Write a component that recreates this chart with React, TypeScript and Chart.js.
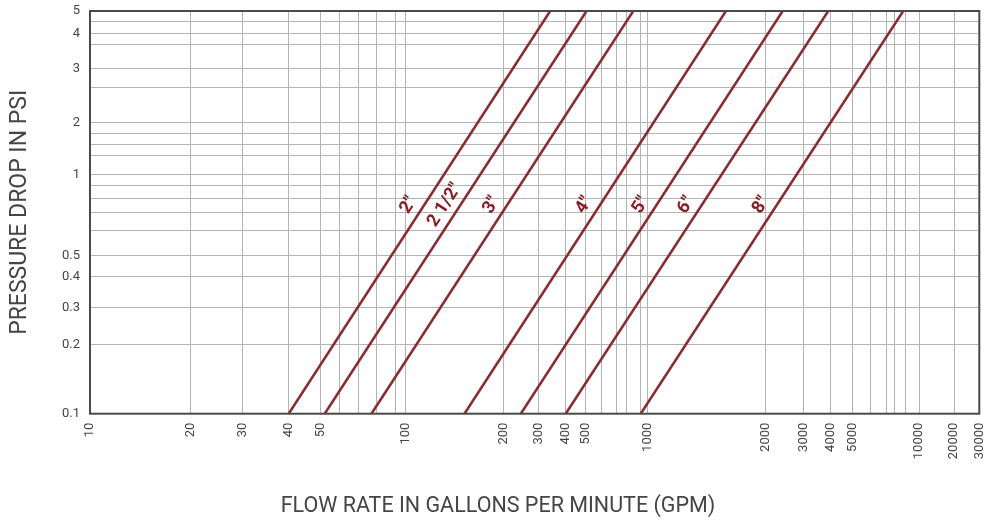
import React, { useEffect, useRef } from 'react';
import { Chart, Scale, registerables } from 'chart.js';

// ---- data ----
const pipeSizes = ['2"', '2 1/2"', '3"', '4"', '5"', '6"', '8"'];
// flow (GPM) at the lowest pressure drop shown (0.1 psi)
const flowAtLowDrop = [40, 52, 77, 152, 245, 400, 905];
// flow (GPM) at the highest pressure drop shown (5 psi)
const flowAtHighDrop = [340, 505, 847, 1584, 2398, 3898, 8766];
const pressureRange = [0.1, 5];
const labelPressure = 0.7;

// ---- axes (grid values, their calibrated position along the axis, labelled ticks) ----
const xGridValues = [10, 20, 30, 40, 50, 60, 70, 80, 90, 100, 200, 300, 400, 500, 600, 700, 800, 900, 1000,
  2000, 3000, 4000, 5000, 6000, 7000, 8000, 9000, 10000, 20000, 30000];
const xGridStops = [0, 0.1128, 0.172, 0.2234, 0.2594, 0.2803, 0.3017, 0.3224, 0.3433, 0.3545, 0.4647, 0.5041,
  0.5349, 0.5574, 0.5754, 0.592, 0.6035, 0.6188, 0.6271, 0.7598, 0.8025, 0.8329, 0.8572, 0.8782, 0.8959,
  0.9052, 0.9172, 0.9322, 0.9716, 1];
const xTickLabels = [10, 20, 30, 40, 50, 100, 200, 300, 400, 500, 1000, 2000, 3000, 4000, 5000, 10000, 20000, 30000];

const yGridValues = [0.1, 0.2, 0.3, 0.4, 0.5, 0.6, 0.7, 0.8, 0.9, 1, 1.4, 1.6, 1.8, 2, 2.5, 3, 3.5, 4, 4.5, 5];
const yGridStops = [0, 0.1723, 0.2642, 0.3412, 0.3933, 0.4537, 0.5001, 0.5332, 0.5662, 0.5945, 0.6417, 0.669,
  0.6963, 0.7236, 0.8095, 0.8577, 0.9173, 0.9446, 0.9734, 1];
const yTickLabels = [0.1, 0.2, 0.3, 0.4, 0.5, 1, 2, 3, 4, 5];

const xTitle = 'FLOW RATE IN GALLONS PER MINUTE (GPM)';
const yTitle = 'PRESSURE DROP IN PSI';

type Calib = { values: number[]; stops: number[] };
const calibration: Record<string, Calib> = {
  x: { values: xGridValues, stops: xGridStops },
  y: { values: yGridValues, stops: yGridStops },
};

function toDecimal(c: Calib, v: number): number {
  const { values, stops } = c;
  const n = values.length;
  let i = 0;
  while (i < n - 2 && v > values[i + 1]) i++;
  const a = Math.log(values[i]);
  const b = Math.log(values[i + 1]);
  const t = (Math.log(v) - a) / (b - a);
  return stops[i] + t * (stops[i + 1] - stops[i]);
}

function fromDecimal(c: Calib, d: number): number {
  const { values, stops } = c;
  const n = values.length;
  let i = 0;
  while (i < n - 2 && d > stops[i + 1]) i++;
  const t = (d - stops[i]) / (stops[i + 1] - stops[i]);
  const a = Math.log(values[i]);
  const b = Math.log(values[i + 1]);
  return Math.exp(a + t * (b - a));
}

class CalibratedLogScale extends Scale {
  static id = 'calibratedLog';
  static defaults = {};
  determineDataLimits() {
    const c = calibration[(this as any).axis];
    (this as any).min = c.values[0];
    (this as any).max = c.values[c.values.length - 1];
  }
  buildTicks() {
    return calibration[(this as any).axis].values.map((value) => ({ value }));
  }
  getLabelForValue(value: number) {
    return String(value);
  }
  getPixelForValue(value: number) {
    return (this as any).getPixelForDecimal(toDecimal(calibration[(this as any).axis], value));
  }
  getValueForPixel(pixel: number) {
    return fromDecimal(calibration[(this as any).axis], (this as any).getDecimalForPixel(pixel));
  }
  getBasePixel() {
    return this.getPixelForValue((this as any).min);
  }
}

Chart.register(...registerables, CalibratedLogScale as any);

const lineColor = '#8c2a2f';
const labelColor = '#8b1d25';
const gridColor = '#b4b4b4';
const textColor = '#454545';

const decorPlugin = {
  id: 'decor',
  afterDatasetsDraw(chart: any) {
    const { ctx, chartArea } = chart;
    const { left, right, top, bottom } = chartArea;
    ctx.save();
    ctx.strokeStyle = '#4a4a4a';
    ctx.lineWidth = 2;
    ctx.strokeRect(left, top, right - left, bottom - top);
    ctx.restore();

    const yScale = chart.scales.y;
    chart.data.datasets.forEach((ds: any, i: number) => {
      const meta = chart.getDatasetMeta(i);
      const p0 = meta.data[0];
      const p1 = meta.data[1];
      const yPix = yScale.getPixelForValue(labelPressure);
      const t = (yPix - p0.y) / (p1.y - p0.y);
      const x = p0.x + t * (p1.x - p0.x);
      const angle = Math.atan2(p1.y - p0.y, p1.x - p0.x);
      ctx.save();
      ctx.translate(x, yPix);
      ctx.rotate(angle);
      ctx.font = 'bold 18px Roboto';
      ctx.fillStyle = labelColor;
      ctx.textAlign = 'center';
      ctx.textBaseline = 'middle';
      ctx.fillText(ds.label, 0, -13);
      ctx.restore();
    });
  },
  afterDraw(chart: any) {
    const { ctx, chartArea } = chart;
    ctx.save();
    ctx.fillStyle = textColor;
    ctx.textAlign = 'center';
    ctx.textBaseline = 'middle';
    ctx.font = '21.5px Roboto';
    ctx.fillText(xTitle, 498, 507);
    ctx.translate(20, (chartArea.top + chartArea.bottom) / 2);
    ctx.rotate(-Math.PI / 2);
    ctx.font = '23px Roboto';
    ctx.fillText(yTitle, 0, 0);
    ctx.restore();
  },
};

export default function App() {
  const canvasRef = useRef<HTMLCanvasElement | null>(null);

  useEffect(() => {
    if (!canvasRef.current) return;
    const datasets = pipeSizes.map((size, i) => ({
      label: size,
      data: [
        { x: flowAtLowDrop[i], y: pressureRange[0] },
        { x: flowAtHighDrop[i], y: pressureRange[1] },
      ],
      borderColor: lineColor,
      borderWidth: 2.5,
      pointRadius: 0,
      fill: false,
      tension: 0,
    }));

    const tickFont = { family: 'Roboto', size: 13 };

    const chart = new Chart(canvasRef.current, {
      type: 'line',
      data: { datasets },
      plugins: [decorPlugin],
      options: {
        animation: false,
        responsive: false,
        events: [],
        layout: { padding: { left: 0, right: 4.7, top: 11, bottom: 0 } },
        plugins: {
          legend: { display: false },
          tooltip: { enabled: false },
          title: { display: false },
        },
        scales: {
          x: {
            type: 'calibratedLog',
            position: 'bottom',
            grid: { color: gridColor, lineWidth: 1, drawTicks: false },
            border: { display: false },
            ticks: {
              autoSkip: false,
              minRotation: 90,
              maxRotation: 90,
              padding: 9,
              color: textColor,
              font: tickFont,
              callback: (v: number) => (xTickLabels.includes(v) ? String(v) : ''),
            },
            afterFit: (s: any) => {
              s.height = 106.3;
              s.paddingLeft = 0;
              s.paddingRight = 0;
            },
          },
          y: {
            type: 'calibratedLog',
            position: 'left',
            grid: { color: gridColor, lineWidth: 1, drawTicks: false },
            border: { display: false },
            ticks: {
              autoSkip: false,
              padding: 10,
              color: textColor,
              font: tickFont,
              callback: (v: number) => (yTickLabels.includes(v) ? String(v) : ''),
            },
            afterFit: (s: any) => {
              s.width = 90;
              s.paddingTop = 0;
              s.paddingBottom = 0;
            },
          },
        },
      } as any,
    });
    return () => chart.destroy();
  }, []);

  return (
    <div style={{ position: 'absolute', left: 0, top: 0, width: 984, height: 520, background: '#fff' }}>
      <canvas ref={canvasRef} width={984} height={520} style={{ display: 'block' }} />
    </div>
  );
}
